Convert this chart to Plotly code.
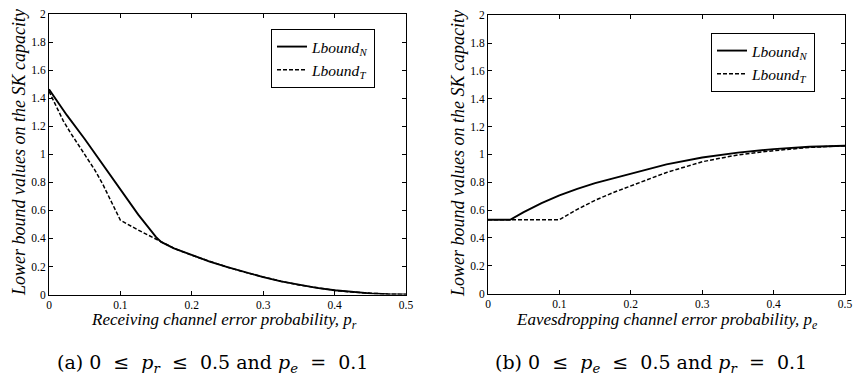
import plotly.graph_objects as go

# ---------------- data ----------------
# (a) vary p_r, p_e = 0.1
pr_N = [0, 0.025, 0.05, 0.075, 0.1, 0.125, 0.15, 0.157, 0.175, 0.2, 0.225, 0.25, 0.275,
        0.3, 0.325, 0.35, 0.375, 0.4, 0.425, 0.45, 0.475, 0.5]
lbN_a = [1.465, 1.28, 1.11, 0.93, 0.75, 0.57, 0.41, 0.375, 0.33, 0.28, 0.235, 0.195, 0.158,
         0.124, 0.094, 0.068, 0.047, 0.030, 0.017, 0.008, 0.002, 0.0]
pr_T = [0, 0.01, 0.02, 0.03, 0.041, 0.052, 0.064, 0.076, 0.088, 0.1, 0.125, 0.157, 0.175, 0.2,
        0.225, 0.25, 0.275, 0.3, 0.325, 0.35, 0.375, 0.4, 0.425, 0.45, 0.475, 0.5]
lbT_a = [1.45, 1.34, 1.24, 1.155, 1.07, 0.98, 0.89, 0.78, 0.66, 0.53, 0.46, 0.375, 0.33, 0.28,
         0.235, 0.195, 0.158, 0.124, 0.094, 0.068, 0.047, 0.030, 0.017, 0.008, 0.002, 0.0]

# (b) vary p_e, p_r = 0.1
pe_N = [0, 0.031, 0.05, 0.075, 0.1, 0.125, 0.15, 0.175, 0.2, 0.25, 0.3, 0.35, 0.4, 0.45, 0.5]
lbN_b = [0.53, 0.53, 0.585, 0.65, 0.705, 0.752, 0.793, 0.828, 0.862, 0.928, 0.978, 1.013,
         1.038, 1.055, 1.062]
pe_T = [0, 0.1, 0.125, 0.15, 0.175, 0.2, 0.25, 0.3, 0.35, 0.4, 0.45, 0.5]
lbT_b = [0.53, 0.53, 0.605, 0.67, 0.725, 0.775, 0.87, 0.947, 0.997, 1.027, 1.05, 1.062]

x_ticks = [0, 0.1, 0.2, 0.3, 0.4, 0.5]
y_ticks = [0, 0.2, 0.4, 0.6, 0.8, 1, 1.2, 1.4, 1.6, 1.8, 2]

name_N = "<i>Lbound<sub>N</sub></i>"
name_T = "<i>Lbound<sub>T</sub></i>"
ytitle = "<i>Lower bound values on the SK capacity</i>"
xtitle_a = "<i>Receiving channel error probability, p<sub>r</sub></i>"
xtitle_b = "<i>Eavesdropping channel error probability, p<sub>e</sub></i>"
SP = "\u00a0"
cap_a = f"(a) 0{SP} ≤{SP} <i>p<sub>r</sub></i>{SP} ≤{SP} 0.5 and <i>p<sub>e</sub></i>{SP} ={SP} 0.1"
cap_b = f"(b) 0{SP} ≤{SP} <i>p<sub>e</sub></i>{SP} ≤{SP} 0.5 and <i>p<sub>r</sub></i>{SP} ={SP} 0.1"

SERIF = "Liberation Serif"
CAPFONT = "DejaVu Serif"
W, H = 853, 376

fig = go.Figure()
fig.add_trace(go.Scatter(x=pr_N, y=lbN_a, mode="lines", name=name_N,
                         line=dict(color="black", width=1.9), xaxis="x", yaxis="y", legend="legend"))
fig.add_trace(go.Scatter(x=pr_T, y=lbT_a, mode="lines", name=name_T,
                         line=dict(color="black", width=1.5, dash="4px,2px"), xaxis="x", yaxis="y", legend="legend"))
fig.add_trace(go.Scatter(x=pe_N, y=lbN_b, mode="lines", name=name_N,
                         line=dict(color="black", width=1.9), xaxis="x2", yaxis="y2", legend="legend2"))
fig.add_trace(go.Scatter(x=pe_T, y=lbT_b, mode="lines", name=name_T,
                         line=dict(color="black", width=1.5, dash="4px,2px"), xaxis="x2", yaxis="y2", legend="legend2"))

def px_x(p):
    return p / W

def px_y(p):
    return 1 - p / H

axis_common = dict(showline=True, linecolor="black", linewidth=1, mirror="ticks",
                   ticks="inside", ticklen=4, tickcolor="black", showgrid=False, zeroline=False,
                   automargin=False,
                   tickfont=dict(family=SERIF, size=11.5, color="black"))

fig.update_layout(
    template="none",
    width=W, height=H,
    margin=dict(l=0, r=0, t=0, b=0, autoexpand=False),
    paper_bgcolor="white", plot_bgcolor="white",
    font=dict(family=SERIF, color="black"),
    xaxis=dict(domain=[px_x(49), px_x(406)], range=[0, 0.5], tickvals=x_ticks, anchor="y", **axis_common),
    yaxis=dict(domain=[px_y(294.5), px_y(14.3)], range=[0, 2], tickvals=y_ticks, anchor="x", **axis_common),
    xaxis2=dict(domain=[px_x(488), px_x(845)], range=[0, 0.5], tickvals=x_ticks, anchor="y2", **axis_common),
    yaxis2=dict(domain=[px_y(293.5), px_y(15.3)], range=[0, 2], tickvals=y_ticks, anchor="x2", **axis_common),
    legend=dict(x=px_x(271), y=px_y(29), xanchor="left", yanchor="top",
                bordercolor="black", borderwidth=1, bgcolor="white",
                font=dict(family=SERIF, size=15.5), itemwidth=30, tracegroupgap=0),
    legend2=dict(x=px_x(711), y=px_y(33), xanchor="left", yanchor="top",
                 bordercolor="black", borderwidth=1, bgcolor="white",
                 font=dict(family=SERIF, size=15.5), itemwidth=30, tracegroupgap=0),
    showlegend=True,
)

ann = []
ann.append(dict(text=ytitle, x=px_x(19), y=px_y(153), xref="paper", yref="paper", textangle=-90,
                showarrow=False, font=dict(family=SERIF, size=18), xanchor="center", yanchor="middle"))
ann.append(dict(text=ytitle, x=px_x(458), y=px_y(153), xref="paper", yref="paper", textangle=-90,
                showarrow=False, font=dict(family=SERIF, size=18), xanchor="center", yanchor="middle"))
ann.append(dict(text=xtitle_a, x=px_x(224), y=px_y(321), xref="paper", yref="paper",
                showarrow=False, font=dict(family=SERIF, size=17), xanchor="center", yanchor="middle"))
ann.append(dict(text=xtitle_b, x=px_x(667), y=px_y(321), xref="paper", yref="paper",
                showarrow=False, font=dict(family=SERIF, size=17), xanchor="center", yanchor="middle"))
ann.append(dict(text=cap_a, x=px_x(212), y=px_y(363), xref="paper", yref="paper",
                showarrow=False, font=dict(family=CAPFONT, size=19), xanchor="center", yanchor="middle"))
ann.append(dict(text=cap_b, x=px_x(651), y=px_y(363), xref="paper", yref="paper",
                showarrow=False, font=dict(family=CAPFONT, size=19), xanchor="center", yanchor="middle"))
fig.update_layout(annotations=ann)

fig.write_html("out.html", config={"displayModeBar": False},
               post_script="document.body.style.margin='0';document.body.style.padding='0';document.body.style.overflow='hidden';")
